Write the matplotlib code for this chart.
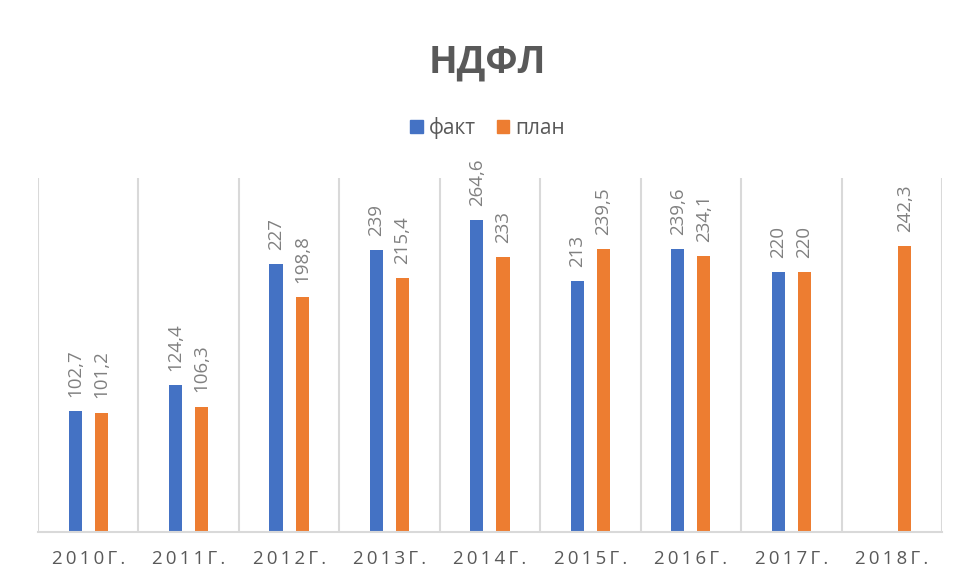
import matplotlib
matplotlib.use("Agg")
import matplotlib.pyplot as plt
import numpy as np
from matplotlib.patches import Patch

categories = ["2010г.", "2011г.", "2012г.", "2013г.", "2014г.", "2015г.", "2016г.", "2017г.", "2018г."]
fact = [102.7, 124.4, 227, 239, 264.6, 213, 239.6, 220, None]
plan = [101.2, 106.3, 198.8, 215.4, 233, 239.5, 234.1, 220, 242.3]
series_names = ["факт", "план"]

BLUE = "#4472C4"
ORANGE = "#ED7D31"
TEXT = "#595959"
LABEL = "#808080"
GRID = "#D9D9D9"

plt.rcParams['font.family'] = ['Open Sans', 'DejaVu Sans']

fig = plt.figure(figsize=(9.56, 5.82), dpi=100)
ax = fig.add_axes([0.0397, 0.0859, 0.9456, 0.6082])

x = np.arange(len(categories))
w = 0.13
off = 0.13

def fmt(v):
    s = f"{v:.1f}".replace(".", ",")
    if s.endswith(",0"):
        s = s[:-2]
    return s

for i, v in enumerate(fact):
    if v is None:
        continue
    ax.bar(x[i] - off, v, width=w, color=BLUE)
    ax.text(x[i] - off, v + 12, fmt(v), rotation=90, ha="center", va="bottom",
            fontsize=13.5, color=LABEL)
for i, v in enumerate(plan):
    if v is None:
        continue
    ax.bar(x[i] + off, v, width=w, color=ORANGE)
    ax.text(x[i] + off, v + 12, fmt(v), rotation=90, ha="center", va="bottom",
            fontsize=13.5, color=LABEL)

ax.set_xlim(-0.5, len(categories) - 0.5)
ax.set_ylim(0, 300)
for b in np.arange(-0.5, len(categories), 1.0):
    ax.axvline(b, color=GRID, lw=1.5, zorder=0)

for s in ["top", "left", "right"]:
    ax.spines[s].set_visible(False)
ax.spines["bottom"].set_color(GRID)
ax.spines["bottom"].set_linewidth(1.5)
ax.set_yticks([])
ax.set_xticks(x)
spaced = ["\u2009".join(c.upper()) for c in categories]
ax.set_xticklabels(spaced, fontsize=13.5, color=TEXT)
ax.tick_params(axis="x", length=0, pad=13)

fig.text(0.51, 0.893, "НДФЛ", ha="center", va="center", fontsize=27,
         fontweight="bold", color=TEXT)

handles = [Patch(color=BLUE, label=series_names[0]), Patch(color=ORANGE, label=series_names[1])]
fig.legend(handles=handles, loc="center", bbox_to_anchor=(0.51, 0.78), ncol=2,
           frameon=False, fontsize=15, handlelength=0.6, handleheight=0.6,
           handletextpad=0.3, columnspacing=1.0, labelcolor=TEXT)

fig.savefig("out.png", dpi=100, facecolor="white")
